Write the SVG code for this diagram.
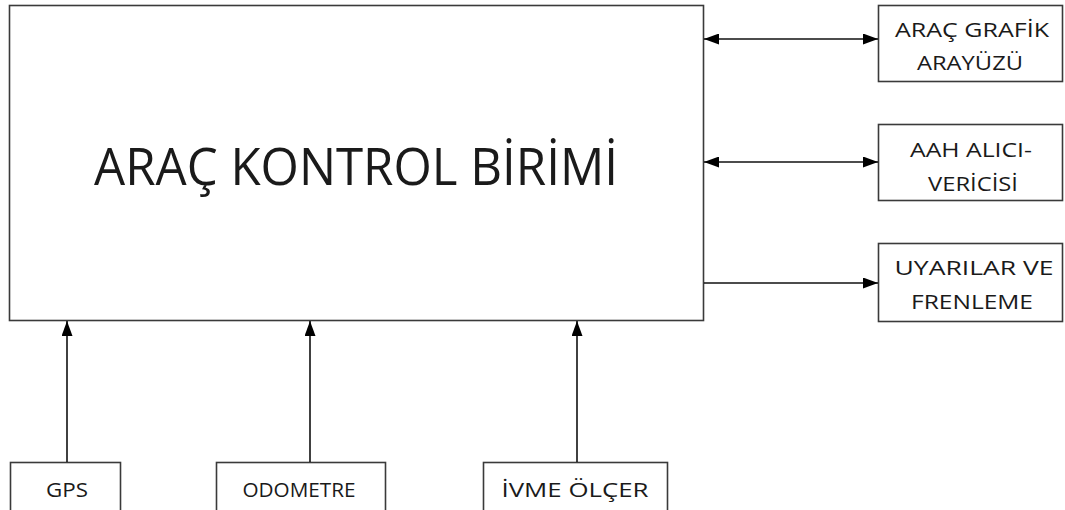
<svg xmlns="http://www.w3.org/2000/svg" width="1065" height="510" viewBox="0 0 1065 510">
<style>
.box{fill:#fff;stroke:#3a3a3a;stroke-width:1.6}
.ln{stroke:#111;stroke-width:1.6;fill:none}
.t{font-family:"Open Sans","Liberation Sans",sans-serif;fill:#1a1a1a;text-anchor:middle}
.s{font-size:20px}
.big{font-size:52px}
</style>
<defs>
<marker id="ah" viewBox="0 0 15 11" refX="15" refY="5.5" markerWidth="15" markerHeight="11" markerUnits="userSpaceOnUse" orient="auto-start-reverse">
<path d="M0,0 L15,5.5 L0,11 Z" fill="#000"/>
</marker>
</defs>
<rect width="1065" height="510" fill="#fff"/>
<g id="main">
<rect class="box" x="9.5" y="5.5" width="694" height="315"/>
<text class="t big" x="356" y="185" textLength="524" lengthAdjust="spacingAndGlyphs">ARAÇ KONTROL BİRİMİ</text>
</g>
<g id="grafik">
<rect class="box" x="878.5" y="5.5" width="184" height="76"/>
<text class="t s" x="972" y="37" textLength="154" lengthAdjust="spacingAndGlyphs">ARAÇ GRAFİK</text>
<text class="t s" x="970" y="70" textLength="106" lengthAdjust="spacingAndGlyphs">ARAYÜZÜ</text>
</g>
<g id="aah">
<rect class="box" x="878.5" y="124.5" width="184" height="76"/>
<text class="t s" x="971" y="157" textLength="122" lengthAdjust="spacingAndGlyphs">AAH ALICI-</text>
<text class="t s" x="973" y="191" textLength="90" lengthAdjust="spacingAndGlyphs">VERİCİSİ</text>
</g>
<g id="uyarilar">
<rect class="box" x="878.5" y="243.5" width="184" height="78"/>
<text class="t s" x="974" y="275" textLength="159" lengthAdjust="spacingAndGlyphs">UYARILAR VE</text>
<text class="t s" x="972" y="309" textLength="122" lengthAdjust="spacingAndGlyphs">FRENLEME</text>
</g>
<g id="gps">
<rect class="box" x="10.5" y="462.5" width="110" height="50"/>
<text class="t s" x="67" y="497" textLength="42" lengthAdjust="spacingAndGlyphs">GPS</text>
</g>
<g id="odometre">
<rect class="box" x="216.5" y="462.5" width="169" height="50"/>
<text class="t s" x="299" y="497" textLength="113" lengthAdjust="spacingAndGlyphs">ODOMETRE</text>
</g>
<g id="ivme">
<rect class="box" x="483.5" y="462.5" width="184" height="50"/>
<text class="t s" x="575" y="497" textLength="147" lengthAdjust="spacingAndGlyphs">İVME ÖLÇER</text>
</g>
<g id="connectors">
<line class="ln" x1="704" y1="39" x2="878" y2="39" marker-start="url(#ah)" marker-end="url(#ah)"/>
<line class="ln" x1="704" y1="162" x2="878" y2="162" marker-start="url(#ah)" marker-end="url(#ah)"/>
<line class="ln" x1="704" y1="283" x2="878" y2="283" marker-end="url(#ah)"/>
<line class="ln" x1="67" y1="462" x2="67" y2="321" marker-end="url(#ah)"/>
<line class="ln" x1="310" y1="462" x2="310" y2="321" marker-end="url(#ah)"/>
<line class="ln" x1="577" y1="462" x2="577" y2="321" marker-end="url(#ah)"/>
</g>
</svg>
